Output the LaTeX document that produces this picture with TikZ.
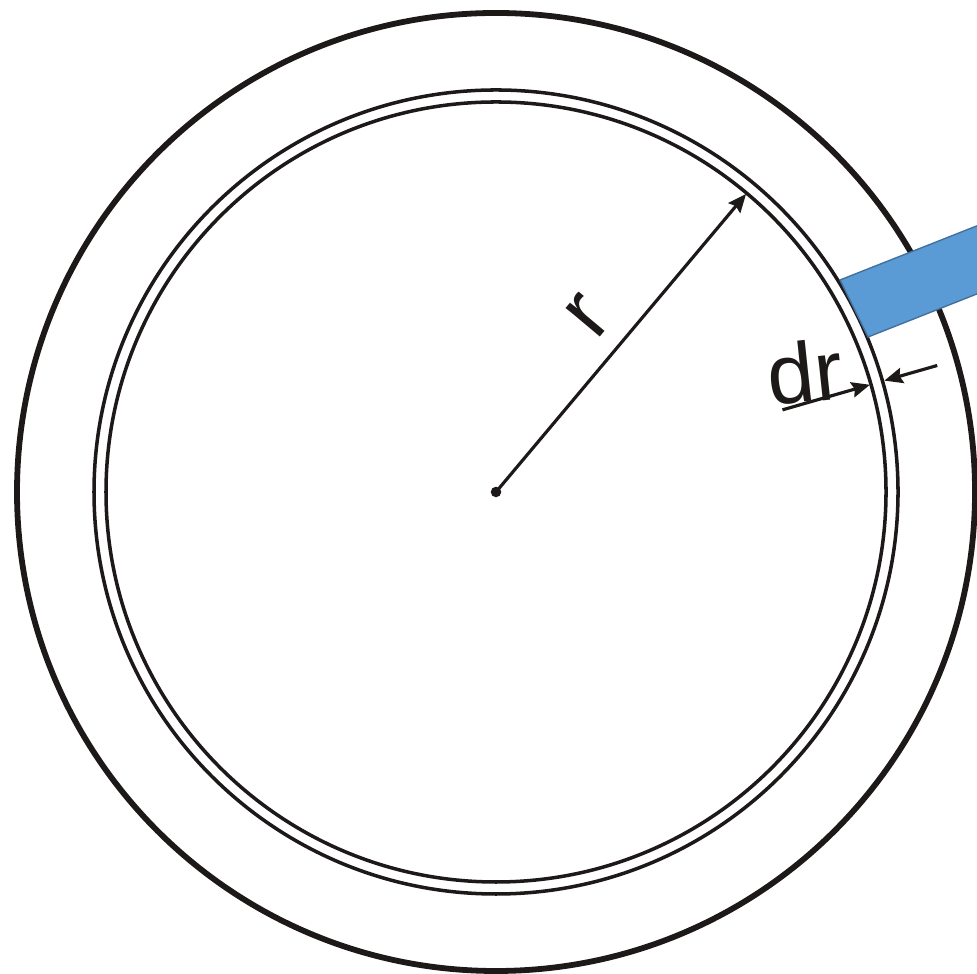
\documentclass[tikz,border=0pt]{standalone}
\usepackage{fontspec}
\setmainfont{Liberation Sans}
\usetikzlibrary{arrows.meta,calc}
\definecolor{barblue}{RGB}{91,155,213}
\definecolor{baredge}{RGB}{65,113,156}
\definecolor{inkblack}{RGB}{30,25,25}
\tikzset{
  wall/.style={draw=inkblack,line width=1.65pt},
  ring/.style={draw=inkblack,line width=1pt},
  dimarrow/.style={-{Stealth[length=5.2pt,width=4.4pt,inset=0.7pt]},
    draw=inkblack,line width=0.9pt},
  lab/.style={font=\fontsize{24}{28}\selectfont,text=inkblack,inner sep=0pt},
  dot/.style={circle,fill=inkblack,inner sep=0pt,minimum size=3pt},
  probe/.style={draw=baredge,line width=0.4pt,fill=barblue}
}

\begin{document}
\begin{tikzpicture}[x=0.01cm,y=0.01cm]
  \useasboundingbox (0,0) rectangle (977,974);
  \clip (0,0) rectangle (977,974);
  \coordinate (centre) at (496,482);
  % vessel and thin shell
  \draw[wall] (centre) circle[radius=479];
  \draw[ring] (centre) circle[radius=402];
  \draw[ring] (centre) circle[radius=390];
  % probe
  \draw[probe] (840,694) -- (868,637) -- (1040,705) -- (1012,762) -- cycle;
  % radius
  \node[dot] (mid) at (centre) {};
  \coordinate (rtip) at ($(centre)+(50:389)$);
  \draw[dimarrow] (mid.center) -- node[lab,midway,sloped,above=1.8mm] (rlab) {r} (rtip);
  % shell thickness
  \coordinate (intail) at ($(centre)+(16:298)$);
  \coordinate (intip) at ($(centre)+(16:389)$);
  \coordinate (outtail) at ($(centre)+(16:459)$);
  \coordinate (outtip) at ($(centre)+(16:404)$);
  \draw[dimarrow] (intail) -- (intip);
  \draw[dimarrow] (outtail) -- (outtip);
  \node[lab,rotate=6] (drlab) at (805,602) {dr};
\end{tikzpicture}
\end{document}
